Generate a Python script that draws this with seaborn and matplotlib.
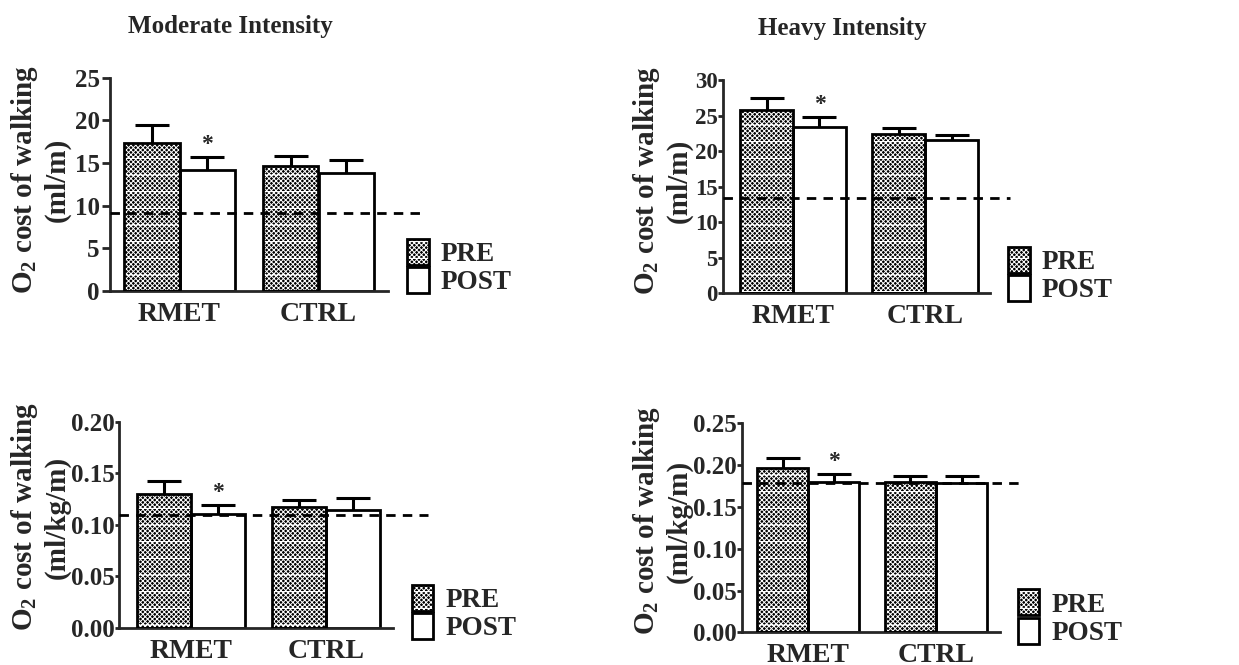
import matplotlib
matplotlib.use("Agg")
import matplotlib.pyplot as plt
import seaborn as sns
import pandas as pd
from matplotlib.patches import Patch, Rectangle
from matplotlib.legend_handler import HandlerTuple
from matplotlib.ticker import FormatStrFormatter, MultipleLocator

# ---------------- data ----------------
groups = ["RMET", "CTRL"]
times = ["PRE", "POST"]

mod_mlm_pre = [17.4, 14.7]
mod_mlm_pre_err = [2.1, 1.1]
mod_mlm_post = [14.2, 13.8]
mod_mlm_post_err = [1.5, 1.5]
mod_mlm_ref = 9.2

hvy_mlm_pre = [25.8, 22.4]
hvy_mlm_pre_err = [1.6, 0.8]
hvy_mlm_post = [23.4, 21.6]
hvy_mlm_post_err = [1.35, 0.7]
hvy_mlm_ref = 13.4

mod_mlkgm_pre = [0.130, 0.117]
mod_mlkgm_pre_err = [0.012, 0.007]
mod_mlkgm_post = [0.110, 0.114]
mod_mlkgm_post_err = [0.009, 0.012]
mod_mlkgm_ref = 0.109

hvy_mlkgm_pre = [0.197, 0.180]
hvy_mlkgm_pre_err = [0.011, 0.0074]
hvy_mlkgm_post = [0.180, 0.179]
hvy_mlkgm_post_err = [0.009, 0.008]
hvy_mlkgm_ref = 0.179

titles = ["Moderate Intensity", "Heavy Intensity"]
ylabel_top = "O$_{2}$ cost of walking\n(ml/m)"
ylabel_bottom = "O$_{2}$ cost of walking\n(ml/kg/m)"

# ---------------- style ----------------
sns.set_style("ticks")
plt.rcParams["font.family"] = ["Liberation Serif", "DejaVu Serif"]
plt.rcParams["font.weight"] = "bold"
plt.rcParams["axes.labelweight"] = "bold"
plt.rcParams["mathtext.fontset"] = "custom"
plt.rcParams["mathtext.rm"] = "Liberation Serif:bold"
plt.rcParams["mathtext.it"] = "Liberation Serif:bold"
plt.rcParams["mathtext.bf"] = "Liberation Serif:bold"
plt.rcParams["hatch.linewidth"] = 0.7

W, H = 1239, 665
fig = plt.figure(figsize=(W / 100, H / 100), dpi=100)


def rect(l, t, r, b):
    return [l / W, 1 - b / H, (r - l) / W, (b - t) / H]


HATCH = "xxxxxxx-"

panels = [
    dict(pre=mod_mlm_pre, pre_err=mod_mlm_pre_err, post=mod_mlm_post, post_err=mod_mlm_post_err,
         ref=mod_mlm_ref, box=(110, 77.7, 388, 291), xlim=(-0.5, 1.5), ylim=(0, 25), step=5,
         fmt="%d", ylabel=ylabel_top, ylab_xy=(40, 180), dash_end=1.76,
         leg=(407, 239), title=titles[0], title_xy=(230, 27),
         tlen=5.8, tpad=1.5, tsize=18),
    dict(pre=hvy_mlm_pre, pre_err=hvy_mlm_pre_err, post=hvy_mlm_post, post_err=hvy_mlm_post_err,
         ref=hvy_mlm_ref, box=(723, 80, 990, 293.3), xlim=(-0.53, 1.49), ylim=(0, 30), step=5,
         fmt="%d", ylabel=ylabel_top, ylab_xy=(662, 181), dash_end=1.645,
         leg=(1008, 246.7), title=titles[1], title_xy=(842, 28),
         tlen=3.6, tpad=0.3, tsize=16.5),
    dict(pre=mod_mlkgm_pre, pre_err=mod_mlkgm_pre_err, post=mod_mlkgm_post, post_err=mod_mlkgm_post_err,
         ref=mod_mlkgm_ref, box=(119.3, 421.7, 393, 627.7), xlim=(-0.528, 1.495), ylim=(0, 0.20), step=0.05,
         fmt="%.2f", ylabel=ylabel_bottom, ylab_xy=(40, 517), dash_end=1.75,
         leg=(411.7, 585), title=None, title_xy=None,
         tlen=2.9, tpad=0.2, tsize=18),
    dict(pre=hvy_mlkgm_pre, pre_err=hvy_mlkgm_pre_err, post=hvy_mlkgm_post, post_err=hvy_mlkgm_post_err,
         ref=hvy_mlkgm_ref, box=(741.7, 423.3, 1000, 632.3), xlim=(-0.52, 1.5), ylim=(0, 0.25), step=0.05,
         fmt="%.2f", ylabel=ylabel_bottom, ylab_xy=(662, 521), dash_end=1.66,
         leg=(1017.7, 589.3), title=None, title_xy=None,
         tlen=3.6, tpad=0.2, tsize=18),
]

for p in panels:
    ax = fig.add_axes(rect(*p["box"]))
    df = pd.DataFrame({
        "group": groups * 2,
        "time": [times[0]] * 2 + [times[1]] * 2,
        "value": list(p["pre"]) + list(p["post"]),
    })
    sns.barplot(data=df, x="group", y="value", hue="time", hue_order=times, order=groups,
                palette={"PRE": "black", "POST": "white"}, edgecolor="black", linewidth=2,
                errorbar=None, legend=False, ax=ax, zorder=2)

    pre_bars, post_bars = ax.containers[0], ax.containers[1]
    # patterned fill for PRE bars
    for bar in pre_bars:
        bar.set_facecolor("black")
        bar.set_edgecolor("white")
        bar.set_hatch(HATCH)
        bar.set_linewidth(0)
        ax.add_patch(Rectangle(bar.get_xy(), bar.get_width(), bar.get_height(), fill=False,
                               edgecolor="black", linewidth=2, zorder=3))

    # upper-only error bars
    for bars, means, errs in ((pre_bars, p["pre"], p["pre_err"]), (post_bars, p["post"], p["post_err"])):
        xs = [b.get_x() + b.get_width() / 2 for b in bars]
        _, caps, _ = ax.errorbar(xs, means, yerr=[[0] * len(errs), errs], fmt="none",
                                 ecolor="black", elinewidth=2.2, capsize=12, capthick=2.2, zorder=1)
        caps[0].set_visible(False)

    # significance star on RMET POST
    b = post_bars[0]
    ax.annotate("*", (b.get_x() + b.get_width() / 2, p["post"][0] + p["post_err"][0]),
                xytext=(0, 9), textcoords="offset points", ha="center", va="center",
                fontsize=17, fontweight="bold", annotation_clip=False)

    # reference dashed line
    ax.plot([p["xlim"][0], p["dash_end"]], [p["ref"], p["ref"]], color="black", lw=2,
            dashes=(3.4, 2.6), clip_on=False, zorder=4)

    ax.set_xlim(*p["xlim"])
    ax.set_ylim(*p["ylim"])
    ax.yaxis.set_major_locator(MultipleLocator(p["step"]))
    ax.yaxis.set_major_formatter(FormatStrFormatter(p["fmt"]))
    ax.set_xlabel("")
    ax.set_ylabel(p["ylabel"], fontsize=21, fontweight="bold", linespacing=1.15)
    ax.yaxis.label.set_rotation_mode("default")
    ax.yaxis.label.set_va("center")
    ax.yaxis.label.set_ha("center")
    ax.yaxis.set_label_coords(p["ylab_xy"][0] / W, 1 - p["ylab_xy"][1] / H, transform=fig.transFigure)

    for s in ("top", "right"):
        ax.spines[s].set_visible(False)
    for s in ("left", "bottom"):
        ax.spines[s].set_linewidth(2)
    ax.tick_params(axis="y", length=p["tlen"], width=2, labelsize=p["tsize"], pad=p["tpad"])
    ax.tick_params(axis="x", length=0, labelsize=20, pad=8)
    for t in ax.get_xticklabels() + ax.get_yticklabels():
        t.set_fontweight("bold")

    # legend
    h_pre = (Patch(facecolor="black", edgecolor="white", hatch=HATCH, linewidth=0),
             Patch(facecolor="none", edgecolor="black", linewidth=2))
    h_post = Patch(facecolor="white", edgecolor="black", linewidth=2)
    ax.legend([h_pre, h_post], times, handler_map={tuple: HandlerTuple(ndivide=1, pad=0)},
              loc="upper left", bbox_to_anchor=(p["leg"][0] / W, 1 - p["leg"][1] / H),
              bbox_transform=fig.transFigure, frameon=False, borderpad=0, borderaxespad=0,
              handlelength=0.8, handleheight=1.1, labelspacing=0.0, handletextpad=0.45,
              prop={"size": 19.5, "weight": "bold"})

    if p["title"]:
        fig.text(p["title_xy"][0] / W, 1 - p["title_xy"][1] / H, p["title"], ha="center",
                 va="center", fontsize=18, fontweight="bold")

fig.savefig("out.png", dpi=100)
